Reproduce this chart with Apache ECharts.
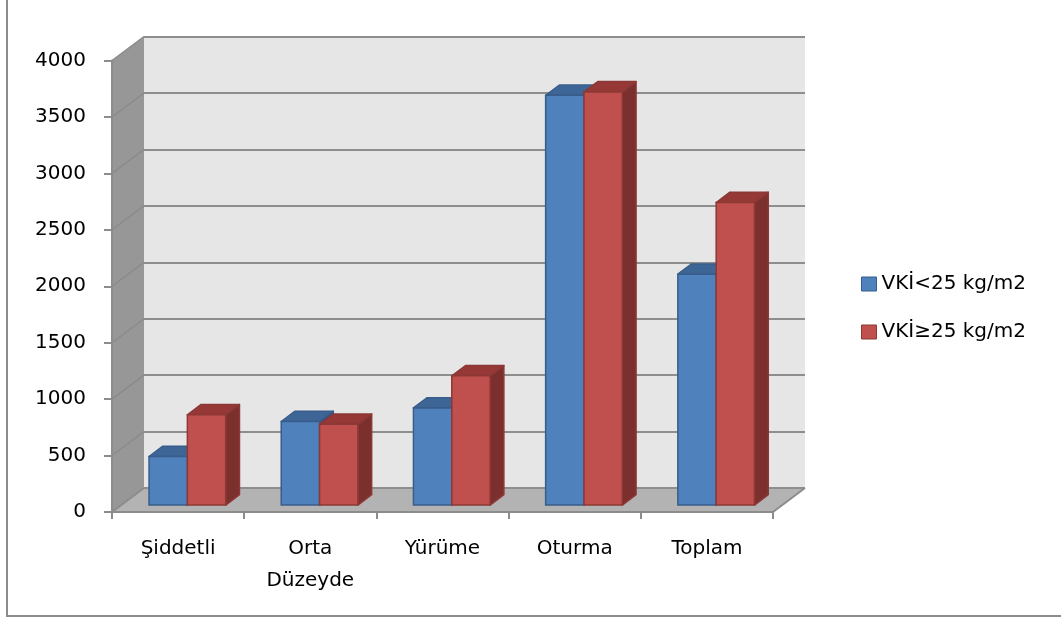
<!DOCTYPE html>
<html>
<head>
<meta charset="utf-8">
<script src="https://cdn.jsdelivr.net/npm/echarts@6/dist/echarts.min.js"></script>
<style>
  html, body { margin: 0; padding: 0; background: #ffffff; }
  #chart { width: 1061px; height: 619px; }
</style>
</head>
<body>
<div id="chart"></div>
<script>
// Physical activity (MET-min/week) by BMI group
const categories = ['Şiddetli', 'Orta\nDüzeyde', 'Yürüme', 'Oturma', 'Toplam'];
const seriesNames = ['VKİ<25 kg/m2', 'VKİ≥25 kg/m2'];
const vkiUnder25 = [430, 740, 860, 3630, 2045];
const vkiOver25 = [800, 715, 1145, 3660, 2680];
const yTicks = [0, 500, 1000, 1500, 2000, 2500, 3000, 3500, 4000];

// 3D look: offset from the front plane to the back wall, in pixels
const DEPTH = [32, -24];
const FRONT_FRAC = 0.29;   // bars' front face sits this far into the depth
const BAR_DEPTH_FRAC = 0.43;
const BAR_WIDTH_FRAC = 0.29; // of one category band

const FONT = 'DejaVu Sans';
const FONT_SIZE = 20;
const AXIS_GREY = '#8c8c8c';

const palettes = [
  { front: '#4f81bd', top: '#3d6696', side: '#30527a', stroke: '#385d8a' },
  { front: '#c0504d', top: '#953836', side: '#7c302e', stroke: '#8c3836' }
];

const frontGrid = { left: 112, right: 288, top: 60.5, bottom: 107 };
const backGrid = {
  left: frontGrid.left + DEPTH[0],
  right: frontGrid.right - DEPTH[0],
  top: frontGrid.top + DEPTH[1],
  bottom: frontGrid.bottom - DEPTH[1]
};

const yMin = yTicks[0];
const yMax = yTicks[yTicks.length - 1];
const yStep = yTicks[1] - yTicks[0];

// Side wall, floor and the wall's diagonal gridlines
function renderFrame(params, api) {
  const band = api.size([1, 0])[0];
  const L = api.coord([0, yMin])[0] - band / 2;
  const R = api.coord([categories.length - 1, yMin])[0] + band / 2;
  const yB = api.coord([0, yMin])[1];
  const yT = api.coord([0, yMax])[1];
  const dx = DEPTH[0], dy = DEPTH[1];
  const children = [
    {
      type: 'polygon',
      shape: { points: [[L, yB], [L, yT], [L + dx, yT + dy], [L + dx, yB + dy]] },
      style: { fill: '#979797', stroke: null }
    },
    {
      type: 'polygon',
      shape: { points: [[L, yB], [R, yB], [R + dx, yB + dy], [L + dx, yB + dy]] },
      style: { fill: '#b3b3b3', stroke: null }
    },
    {
      type: 'line',
      shape: { x1: R, y1: yB, x2: R + dx, y2: yB + dy },
      style: { stroke: AXIS_GREY, lineWidth: 2 }
    }
  ];
  yTicks.forEach(function (t) {
    const y = api.coord([0, t])[1];
    children.push({
      type: 'line',
      shape: { x1: L, y1: y, x2: L + dx, y2: y + dy },
      style: { stroke: t === yMin ? AXIS_GREY : '#8a8a8a', lineWidth: t === yMin ? 2 : 1.3 }
    });
  });
  return { type: 'group', children: children };
}

function makeBarRenderer(seriesIdx) {
  const pal = palettes[seriesIdx];
  return function (params, api) {
    const ci = api.value(0);
    const v = api.value(1);
    const base = api.coord([ci, 0]);
    const top = api.coord([ci, v]);
    const band = api.size([1, 0])[0];
    const w = band * BAR_WIDTH_FRAC;
    const fx = DEPTH[0] * FRONT_FRAC, fy = DEPTH[1] * FRONT_FRAC;
    const dx = DEPTH[0] * BAR_DEPTH_FRAC, dy = DEPTH[1] * BAR_DEPTH_FRAC;
    const x0 = base[0] + (seriesIdx === 0 ? -w : 0) + fx;
    const x1 = x0 + w;
    const yb = base[1] + fy;
    const yt = top[1] + fy;
    const lw = 1.5;
    return {
      type: 'group',
      children: [
        {
          type: 'polygon',
          shape: { points: [[x1, yt], [x1, yb], [x1 + dx, yb + dy], [x1 + dx, yt + dy]] },
          style: { fill: pal.side, stroke: pal.stroke, lineWidth: lw, lineJoin: 'round' }
        },
        {
          type: 'polygon',
          shape: { points: [[x0, yt], [x1, yt], [x1 + dx, yt + dy], [x0 + dx, yt + dy]] },
          style: { fill: pal.top, stroke: pal.stroke, lineWidth: lw, lineJoin: 'round' }
        },
        {
          type: 'rect',
          shape: { x: x0, y: yt, width: w, height: yb - yt },
          style: { fill: pal.front, stroke: pal.stroke, lineWidth: lw }
        }
      ]
    };
  };
}

const seriesValues = [vkiUnder25, vkiOver25];

const chart = echarts.init(document.getElementById('chart'), null, { renderer: 'canvas' });
chart.setOption({
  animation: false,
  backgroundColor: '#ffffff',
  textStyle: { fontFamily: FONT },
  graphic: [
    {
      type: 'rect',
      z: 100,
      shape: { x: 7, y: -5, width: 1070, height: 621 },
      style: { fill: null, stroke: AXIS_GREY, lineWidth: 2 }
    }
  ],
  legend: {
    orient: 'vertical',
    left: 861,
    top: 273,
    padding: 0,
    itemGap: 26,
    itemWidth: 15,
    itemHeight: 14,
    icon: 'rect',
    textStyle: { fontFamily: FONT, fontSize: FONT_SIZE, color: '#000000', lineHeight: 22 },
    data: seriesNames.map(function (n, i) {
      return {
        name: n,
        itemStyle: { color: palettes[i].front, borderColor: palettes[i].stroke, borderWidth: 1 }
      };
    })
  },
  grid: [
    Object.assign({ containLabel: false }, frontGrid),
    Object.assign({ containLabel: false, show: true, backgroundColor: '#e6e6e6', borderWidth: 0 }, backGrid)
  ],
  xAxis: [
    {
      type: 'category',
      gridIndex: 0,
      data: categories,
      boundaryGap: true,
      axisLine: { show: true, lineStyle: { color: AXIS_GREY, width: 2 } },
      axisTick: { show: true, inside: false, length: 7, interval: 0, lineStyle: { color: AXIS_GREY, width: 2 } },
      axisLabel: { show: true, interval: 0, margin: 21, fontFamily: FONT, fontSize: FONT_SIZE, lineHeight: 32, color: '#000000' },
      splitLine: { show: false }
    },
    {
      type: 'category',
      gridIndex: 1,
      data: categories,
      show: false
    }
  ],
  yAxis: [
    {
      type: 'value',
      gridIndex: 0,
      min: yMin,
      max: yMax,
      interval: yStep,
      axisLine: { show: true, lineStyle: { color: AXIS_GREY, width: 2 } },
      axisTick: { show: true, inside: false, length: 8, lineStyle: { color: AXIS_GREY, width: 2 } },
      axisLabel: {
        show: true, margin: 26, fontFamily: FONT, fontSize: FONT_SIZE, color: '#000000',
        formatter: function (v) { return String(v); }
      },
      splitLine: { show: false }
    },
    {
      type: 'value',
      gridIndex: 1,
      min: yMin,
      max: yMax,
      interval: yStep,
      axisLine: { show: false },
      axisTick: { show: false },
      axisLabel: { show: false },
      splitLine: { show: true, lineStyle: { color: '#8e8e8e', width: 1.8 } }
    }
  ],
  series: [
    {
      name: 'frame',
      type: 'custom',
      xAxisIndex: 0,
      yAxisIndex: 0,
      z: -1,
      silent: true,
      renderItem: renderFrame,
      data: [[0, yMin]],
      encode: { x: 0, y: 1 }
    }
  ].concat(seriesNames.map(function (name, si) {
    return {
      name: name,
      type: 'custom',
      xAxisIndex: 0,
      yAxisIndex: 0,
      z: 2 + si,
      clip: false,
      itemStyle: { color: palettes[si].front, borderColor: palettes[si].stroke, borderWidth: 1 },
      renderItem: makeBarRenderer(si),
      encode: { x: 0, y: 1 },
      data: seriesValues[si].map(function (v, i) { return [i, v]; })
    };
  }))
});
</script>
</body>
</html>
